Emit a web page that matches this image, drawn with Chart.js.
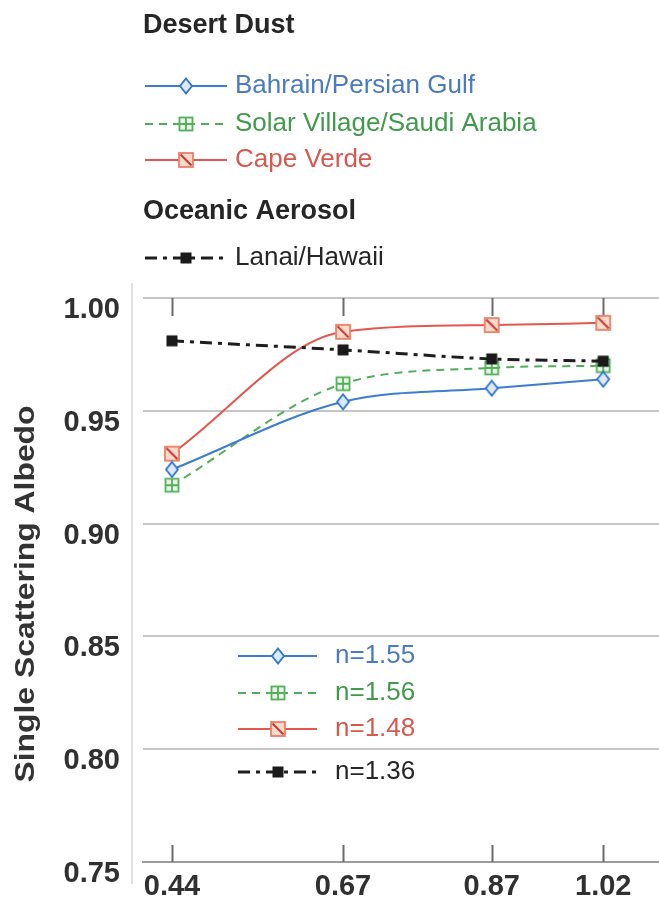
<!DOCTYPE html>
<html>
<head>
<meta charset="utf-8">
<script src="https://cdn.jsdelivr.net/npm/chart.js@4/dist/chart.umd.min.js"></script>
<style>
  html, body { margin: 0; padding: 0; background: #fff; }
  canvas { display: block; }
</style>
</head>
<body>
<canvas id="albedo" width="659" height="900"></canvas>
<script>
// Wavelength (µm) of each measurement
const wavelengths = [0.44, 0.67, 0.87, 1.02];

// Single scattering albedo per site
const bahrain      = [0.924, 0.954, 0.960, 0.964];
const solarVillage = [0.917, 0.962, 0.969, 0.970];
const capeVerde    = [0.931, 0.985, 0.988, 0.989];
const lanai        = [0.981, 0.977, 0.973, 0.972];

const siteNames   = ['Bahrain/Persian Gulf', 'Solar Village/Saudi Arabia', 'Cape Verde', 'Lanai/Hawaii'];
const indexLabels = ['n=1.55', 'n=1.56', 'n=1.48', 'n=1.36'];
const groupTitles = ['Desert Dust', 'Oceanic Aerosol'];
const yTitle      = 'Single Scattering Albedo';
const yTickValues = [0.75, 0.80, 0.85, 0.90, 0.95, 1.00];

const FONT = '"Liberation Sans", Arial, Helvetica, sans-serif';

// Small bitmap markers used both on the curves and in the keys
function makeMarker(kind, stroke, fill, accent) {
  const s = 18;
  const c = document.createElement('canvas');
  c.width = s; c.height = s;
  const g = c.getContext('2d');
  const m = s / 2;
  g.lineWidth = 1.8;
  g.strokeStyle = stroke;
  g.fillStyle = fill;
  if (kind === 'diamond') {
    g.beginPath();
    g.moveTo(m, 1.5); g.lineTo(m + 6, m); g.lineTo(m, s - 1.5); g.lineTo(m - 6, m);
    g.closePath(); g.fill(); g.stroke();
  } else if (kind === 'grid') {
    g.fillRect(2.5, 2.5, 13, 13);
    g.strokeRect(2.5, 2.5, 13, 13);
    g.beginPath();
    g.moveTo(m, 2.5); g.lineTo(m, 15.5);
    g.moveTo(2.5, m); g.lineTo(15.5, m);
    g.stroke();
  } else if (kind === 'slash') {
    g.fillRect(2, 2, 14, 14);
    g.strokeRect(2, 2, 14, 14);
    g.strokeStyle = accent;
    g.lineWidth = 2;
    g.beginPath(); g.moveTo(3.5, 3.5); g.lineTo(14.5, 14.5); g.stroke();
  } else if (kind === 'solid') {
    g.fillStyle = stroke;
    g.fillRect(3.5, 3.5, 11, 11);
  }
  return c;
}

const series = [
  { name: siteNames[3], n: indexLabels[3], values: lanai,
    line: '#1e1e1e', text: '#262626', width: 3, dash: [12, 6, 4, 6],
    marker: makeMarker('solid', '#1a1a1a') },
  { name: siteNames[0], n: indexLabels[0], values: bahrain,
    line: '#3c7dd0', text: '#4a7bc2', width: 2, dash: [],
    marker: makeMarker('diamond', '#2f74cc', '#dbe9f9') },
  { name: siteNames[1], n: indexLabels[1], values: solarVillage,
    line: '#4fae57', text: '#3f9a4b', width: 2, dash: [8, 6],
    marker: makeMarker('grid', '#52b05a', '#eaf6e8') },
  { name: siteNames[2], n: indexLabels[2], values: capeVerde,
    line: '#e5574c', text: '#d9574d', width: 2, dash: [],
    marker: makeMarker('slash', '#ea7f68', '#fcdacb', '#c8392d') }
];

const datasets = series.map(s => ({
  label: s.name,
  data: wavelengths.map((x, i) => ({ x: x, y: s.values[i] })),
  borderColor: s.line,
  borderWidth: s.width,
  borderDash: s.dash,
  pointStyle: s.marker,
  pointRadius: 9,
  cubicInterpolationMode: 'monotone',
  fill: false
}));

function byName(name) { return series.find(s => s.name === name); }

function drawSample(ctx, s, x0, x1, y) {
  ctx.save();
  ctx.strokeStyle = s.line;
  ctx.lineWidth = s.width;
  ctx.setLineDash(s.dash);
  ctx.beginPath();
  ctx.moveTo(x0, y);
  ctx.lineTo(x1, y);
  ctx.stroke();
  ctx.setLineDash([]);
  const mx = Math.round((x0 + x1) / 2);
  ctx.drawImage(s.marker, mx - s.marker.width / 2, y - s.marker.height / 2);
  ctx.restore();
}

// Site key above the plot, index-of-refraction key inside it, y title, inward ticks
const decorations = {
  id: 'decorations',
  beforeDatasetsDraw(chart) {
    const ctx = chart.ctx;
    const area = chart.chartArea;
    const xs = chart.scales.x;
    ctx.save();
    // faint vertical axis rule beside the tick labels
    ctx.strokeStyle = '#d9d9d9';
    ctx.lineWidth = 1.5;
    ctx.beginPath();
    ctx.moveTo(132, 283);
    ctx.lineTo(132, 884);
    ctx.stroke();
    // tick marks pointing into the plot from top and bottom
    ctx.strokeStyle = '#6a6a6a';
    ctx.lineWidth = 2;
    wavelengths.forEach(w => {
      const px = Math.round(xs.getPixelForValue(w)) + 0.5;
      ctx.beginPath();
      ctx.moveTo(px, area.top);
      ctx.lineTo(px, area.top + 18);
      ctx.moveTo(px, area.bottom);
      ctx.lineTo(px, area.bottom - 17);
      ctx.stroke();
    });
    ctx.restore();
  },
  afterDraw(chart) {
    const ctx = chart.ctx;
    ctx.save();
    ctx.textBaseline = 'middle';
    ctx.textAlign = 'left';

    // group headings
    ctx.fillStyle = '#262626';
    ctx.font = 'bold 27px ' + FONT;
    ctx.fillText(groupTitles[0], 143, 26);
    ctx.fillText(groupTitles[1], 143, 212);

    // site key
    ctx.font = '26px ' + FONT;
    const topRows = [
      { s: byName(siteNames[0]), y: 86 },
      { s: byName(siteNames[1]), y: 124 },
      { s: byName(siteNames[2]), y: 160 },
      { s: byName(siteNames[3]), y: 258 }
    ];
    topRows.forEach(r => {
      drawSample(ctx, r.s, 145, 227, r.y);
      ctx.fillStyle = r.s.text;
      ctx.fillText(r.s.name, 235, r.y);
    });

    // refractive index key
    const innerRows = [
      { s: byName(siteNames[0]), y: 656 },
      { s: byName(siteNames[1]), y: 693 },
      { s: byName(siteNames[2]), y: 729 },
      { s: byName(siteNames[3]), y: 772 }
    ];
    innerRows.forEach(r => {
      drawSample(ctx, r.s, 238, 317, r.y);
      ctx.fillStyle = r.s.text;
      ctx.fillText(r.s.n, 335, r.y);
    });

    // y-axis title
    ctx.translate(27, 594);
    ctx.rotate(-Math.PI / 2);
    ctx.scale(1.18, 1);
    ctx.textAlign = 'center';
    ctx.fillStyle = '#333';
    ctx.font = 'bold 27px ' + FONT;
    ctx.fillText(yTitle, 0, 0);
    ctx.restore();
  }
};

new Chart(document.getElementById('albedo'), {
  type: 'line',
  data: { datasets: datasets },
  options: {
    responsive: false,
    animation: false,
    devicePixelRatio: 1,
    events: [],
    layout: { autoPadding: false, padding: { top: 298, left: 0, right: 0, bottom: 0 } },
    plugins: { legend: { display: false }, tooltip: { enabled: false } },
    scales: {
      x: {
        type: 'linear',
        min: 0.401,
        max: 1.095,
        afterBuildTicks: s => { s.ticks = wavelengths.map(v => ({ value: v })); },
        afterFit: s => { s.height = 38; s.paddingLeft = 0; s.paddingRight = 0; },
        grid: { display: false, drawTicks: false },
        border: { display: true, color: '#9c9c9c', width: 2 },
        ticks: {
          padding: 8,
          autoSkip: false,
          maxRotation: 0,
          color: '#303030',
          font: { family: FONT, size: 29, weight: 'bold' },
          callback: v => Number(v).toFixed(2)
        }
      },
      y: {
        min: 0.75,
        max: 1.00,
        afterBuildTicks: s => { s.ticks = yTickValues.map(v => ({ value: v })); },
        afterFit: s => { s.width = 143; s.paddingTop = 0; s.paddingBottom = 0; },
        grid: { color: '#c6c6c6', lineWidth: 2, drawTicks: false },
        border: { display: false },
        ticks: {
          padding: 23,
          labelOffset: 12,
          color: '#303030',
          font: { family: FONT, size: 29, weight: 'bold' },
          callback: v => Number(v).toFixed(2)
        }
      }
    }
  },
  plugins: [decorations]
});
</script>
</body>
</html>
